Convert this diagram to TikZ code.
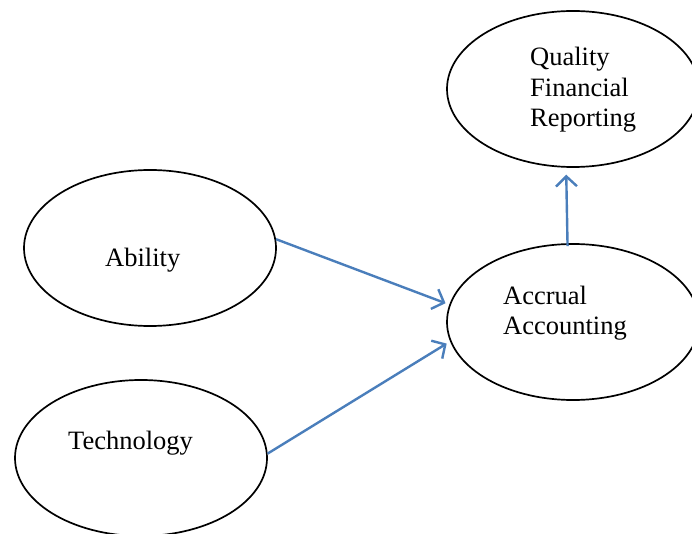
\documentclass[tikz,border=0pt]{standalone}
\usepackage{fontspec}
\setmainfont{Liberation Serif}
\usepackage{xcolor}
\usepackage{tikz}
\usetikzlibrary{shapes.geometric,arrows.meta}

\definecolor{arrowblue}{RGB}{74,126,187}

\begin{document}
\begin{tikzpicture}[x=1pt,y=-1pt,
    construct/.style={ellipse,draw=black,line width=1.7pt,inner sep=0,minimum width=252pt,minimum height=156pt},
    lab/.style={anchor=west,inner sep=0,align=left,font=\fontsize{26.5}{30.5}\selectfont},
    link/.style={arrowblue,line width=2.4pt,-{Straight Barb[length=10pt,width=21pt,line width=2.4pt]}}]
    \useasboundingbox (0,0) rectangle (692,534);

    % constructs
    \node[construct] (qfr) at (573,89) {};
    \node[construct] (abil) at (150,248) {};
    \node[construct] (accr) at (573,322) {};
    \node[construct] (tech) at (141,458) {};

    % texts
    \node[lab] (qfrlab) at (530,90) {Quality\\Financial\\Reporting};
    \node[lab] (abillab) at (105,260) {Ability};
    \node[lab] (accrlab) at (503,313) {Accrual\\Accounting};
    \node[lab] (techlab) at (68,443) {Technology};

    % paths
    \draw[link,shorten >=4pt] (abil.4) -- (accr.172);
    \draw[link,shorten >=4pt] (tech.2) -- (accr.189);
    \draw[link,shorten >=7pt,shorten <=-3pt] (accr.94) -- (qfr.265);
\end{tikzpicture}
\end{document}
